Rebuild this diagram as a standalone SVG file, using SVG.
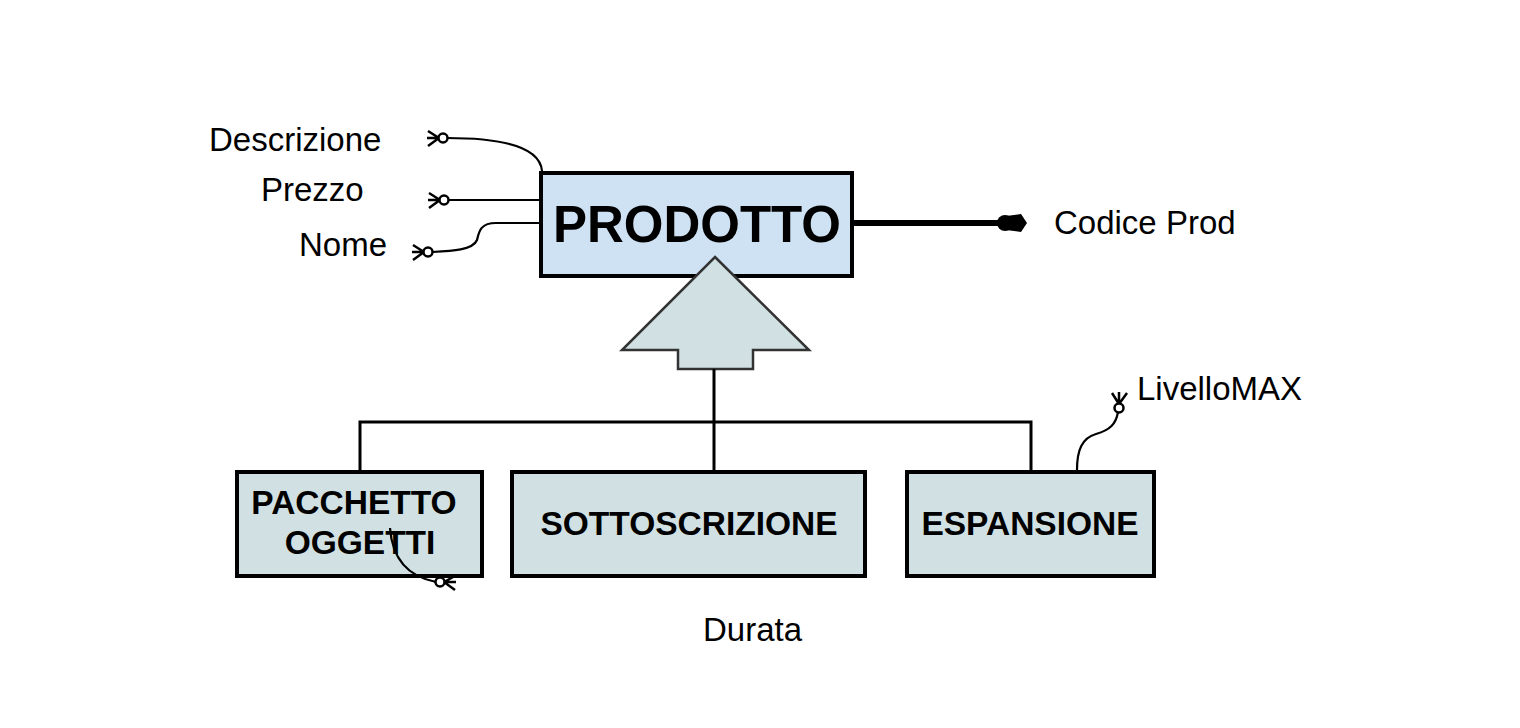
<svg xmlns="http://www.w3.org/2000/svg" width="1520" height="728" viewBox="0 0 1520 728">
<style>
.ent{stroke:#000;stroke-width:4}
.top{fill:#cfe2f3}
.sub{fill:#d0e0e3}
.t{font-family:"Liberation Sans",Arial,sans-serif;fill:#000}
.b{font-weight:bold;text-anchor:middle}
.ln{fill:none;stroke:#000;stroke-width:3}
.att{fill:none;stroke:#000;stroke-width:2.2}
.cf{fill:none;stroke:#000;stroke-width:2.5}
.circ{fill:#fff;stroke:#000;stroke-width:2.5}
</style>
<rect width="1520" height="728" fill="#fff"/>
<g id="attr-descrizione">
<path class="cf" d="M439,138 L427,138 M439,138 L428,131 M439,138 L428,146"/>
<circle class="circ" cx="443" cy="138" r="4.5"/>
<text class="t" x="209" y="151" font-size="33">Descrizione</text>
</g>
<g id="attr-prezzo">
<path class="cf" d="M440,200 L428,200 M440,200 L429,193 M440,200 L429,208"/>
<circle class="circ" cx="444" cy="200" r="4.5"/>
<text class="t" x="261" y="201" font-size="33">Prezzo</text>
</g>
<g id="attr-nome">
<path class="cf" d="M424,252 L412,252 M424,252 L413,245 M424,252 L413,260"/>
<circle class="circ" cx="428" cy="252" r="4.5"/>
<text class="t" x="299" y="256" font-size="33">Nome</text>
</g>
<g id="attr-codice">
<text class="t" x="1054" y="234" font-size="33">Codice Prod</text>
</g>
<g id="attr-livello">
<path class="cf" d="M1119,404 L1119,392 M1119,404 L1112,393 M1119,404 L1127,393"/>
<circle class="circ" cx="1119" cy="408" r="4.5"/>
<text class="t" x="1137" y="400" font-size="33">LivelloMAX</text>
</g>
<g id="attr-durata">
<path class="cf" d="M444,582 L456,582 M444,582 L455,576 M444,582 L455,590"/>
<circle class="circ" cx="440" cy="582" r="4.5"/>
<text class="t" x="703" y="641" font-size="33">Durata</text>
</g>
<g id="prodotto">
<rect class="ent top" x="541" y="173" width="311" height="103"/>
<text class="t b" x="697" y="242" font-size="51">PRODOTTO</text>
</g>
<g id="isa">
<polygon points="715,257 809,350 753,350 753,369 678,369 678,350 622,350" fill="#d0e0e3" stroke="#333" stroke-width="2.5" stroke-linejoin="miter"/>
</g>
<g id="pacchetto">
<rect class="ent sub" x="237" y="472" width="245" height="104"/>
<text class="t b" x="354" y="514" font-size="33.5">PACCHETTO</text>
<text class="t b" x="360" y="554" font-size="33.5">OGGETTI</text>
</g>
<g id="sottoscrizione">
<rect class="ent sub" x="512" y="472" width="353" height="104"/>
<text class="t b" x="689" y="535" font-size="33.5">SOTTOSCRIZIONE</text>
</g>
<g id="espansione">
<rect class="ent sub" x="907" y="472" width="247" height="104"/>
<text class="t b" x="1030" y="535" font-size="33.5">ESPANSIONE</text>
</g>
<g id="connectors">
<polyline class="ln" points="360,470 360,422 1031,422 1031,470"/>
<line class="ln" x1="714" y1="369" x2="714" y2="470"/>
<line x1="854" y1="223" x2="1000" y2="223" stroke="#000" stroke-width="6"/>
<circle cx="1005" cy="223" r="8" fill="#000"/>
<polygon points="1006,216 1021,214 1027,223 1021,232 1006,230" fill="#000"/>
<path class="att" d="M447,138 C505,138 540,148 542,171"/>
<path class="att" d="M448,200 L539,200"/>
<path class="att" d="M539,223 L496,223 C480,223 479,232 477,240 C473,250 452,251 432,252"/>
<path class="att" d="M1077,470 C1077,450 1082,438 1096,434 C1110,430 1116,424 1118,412"/>
<path class="att" d="M390,528 C392,556 405,576 436,582"/>
</g>
</svg>
